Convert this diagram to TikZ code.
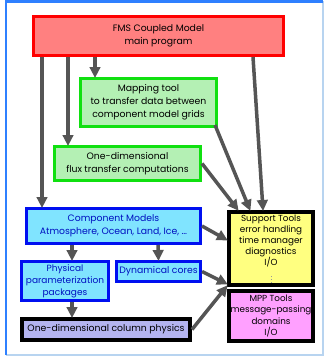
\documentclass[tikz,border=0pt]{standalone}
\usepackage{fontspec}
\setmainfont{Poppins}
\usetikzlibrary{arrows.meta}
\definecolor{redfill}{HTML}{FF8080}
\definecolor{greenline}{HTML}{10E010}
\definecolor{greenfill}{HTML}{B4F0B4}
\definecolor{blueline}{HTML}{0010F0}
\definecolor{bluefill}{HTML}{80E4FF}
\definecolor{bluetext}{HTML}{0010C0}
\definecolor{lavfill}{HTML}{B4B4F0}
\definecolor{yelfill}{HTML}{FFFF80}
\definecolor{mppfill}{HTML}{FFA0FF}
\definecolor{framea}{HTML}{2F80FF}
\definecolor{frameb}{HTML}{B8D4F0}
\definecolor{arrcol}{HTML}{555555}
\tikzset{
  box/.style={rectangle, inner sep=0pt, align=center, font=\fontsize{9.3}{13}\selectfont},
  redbox/.style={box, draw=red, fill=redfill, line width=3pt},
  greenbox/.style={box, draw=greenline, fill=greenfill, line width=3pt},
  bluebox/.style={box, draw=blueline, fill=bluefill, line width=3pt, text=bluetext},
  blackbox/.style={box, draw=black, line width=4pt},
  arr/.style={draw=arrcol, line width=3.5pt, -{Triangle[length=11pt,width=10.5pt]}, shorten >=-1pt},
}
\begin{document}
\begin{tikzpicture}[x=1pt,y=-1pt]
\useasboundingbox (0,0) rectangle (328,361);
\fill[white] (0,0) rectangle (328,361);
\draw[frameb, line width=1.5pt] (6,355) -- (323,355) -- (323,1.5);
\draw[framea, line width=2.5pt] (6,355) -- (6,1.5) -- (323,1.5);

\node[redbox, minimum width=250pt, minimum height=39pt] (red) at (158.5,36) {FMS Coupled Model\\main program};
\node[greenbox, minimum width=136pt, minimum height=48pt] (map) at (148.5,102.5) {Mapping tool\\to transfer data between\\component model grids};
\node[greenbox, minimum width=146pt, minimum height=34pt] (flux) at (127.5,163.5) {One-dimensional\\flux transfer computations};
\node[bluebox, minimum width=174pt, minimum height=35pt] (comp) at (113.5,226) {Component Models\\Atmosphere, Ocean, Land, Ice, \dots};
\node[bluebox, text width=87pt, minimum height=39pt, font=\fontsize{9}{12}\selectfont] (phys) at (65,281) {Physical\\parameterization\\packages};
\node[bluebox, minimum width=84pt, minimum height=20pt] (dyn) at (158.5,271.5) {Dynamical cores};
\node[blackbox, fill=lavfill, minimum width=168pt, minimum height=21pt] (col) at (106,329.5) {One-dimensional column physics};
\node[blackbox, fill=yelfill, minimum width=84pt, minimum height=73pt, font=\fontsize{8.8}{11}\selectfont] (sup) at (271,248.5) {Support Tools\\error handling\\time manager\\diagnostics\\I/O\\[6pt]};
\node[blackbox, fill=mppfill, minimum width=84pt, minimum height=50pt, font=\fontsize{8.8}{11.3}\selectfont] (mpp) at (271,316) {MPP Tools\\message-passing\\domains\\I/O};
\draw[arrcol!60, line width=1pt, dotted] ([yshift=4pt]sup.south) -- ([yshift=12pt]sup.south);

\draw[arr] ([xshift=-116.5pt]red.south) -- ([xshift=-71.5pt]comp.north);
\draw[arr] ([xshift=-90.5pt]red.south) -- ([xshift=-59.5pt]flux.north);
\draw[arr] ([xshift=-63.5pt]red.south) -- ([xshift=-53.5pt]map.north);
\draw[arr] ([xshift=94.5pt]red.south) -- ([xshift=-8pt]sup.north);
\draw[arr] ([xshift=-3pt,yshift=3pt]map.south east) -- ([xshift=-21pt]sup.north);
\draw[arr] (flux.east) -- ([xshift=-33pt]sup.north);
\draw[arr] (comp.east) -- ([yshift=8.5pt]sup.west);
\draw[arr] (dyn.east) -- ([yshift=3pt]sup.south west);
\draw[arr] (col.east) -- ([yshift=1pt]sup.south west);
\draw[arr] ([xshift=-41.5pt]comp.south) -- ([xshift=7pt]phys.north);
\draw[arr] ([xshift=44.5pt]comp.south) -- (dyn.north);
\draw[arr] ([xshift=7pt]phys.south) -- ([xshift=-34pt]col.north);
\end{tikzpicture}
\end{document}
